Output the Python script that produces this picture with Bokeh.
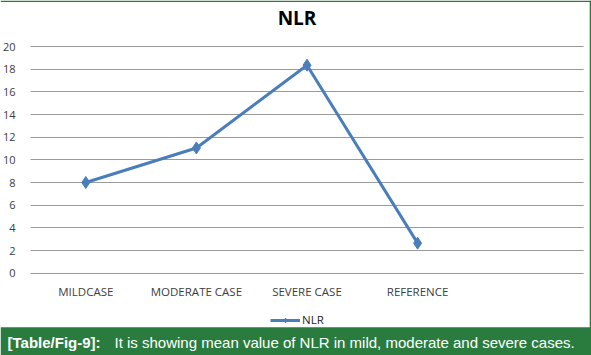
from bokeh.plotting import figure
from bokeh.models import (Range1d, FixedTicker, Label, BoxAnnotation, Legend, LegendItem,
                          LinearAxis, Grid, Span)
from bokeh.embed import file_html
from bokeh.resources import INLINE

categories = ["MILDCASE", "MODERATE CASE", "SEVERE CASE", "REFERENCE"]
nlr_values = [8.0, 11.05, 18.35, 2.65]
y_ticks = [0, 2, 4, 6, 8, 10, 12, 14, 16, 18, 20]
title_text = "NLR"
series_name = "NLR"
caption_bold = "[Table/Fig-9]:"
caption_text = "It is showing mean value of NLR in mild, moderate and severe cases."

W, H = 591, 355
# plot-area pixel geometry of the reference (left, right, top, bottom)
PL, PR, PT, PB = 30, 583, 46, 272.7
n_slots = 5
slot_lo, slot_hi = 0.5, n_slots + 0.5
v_lo, v_hi = 0, 20

def dx(px):
    return slot_lo + (px - PL) / (PR - PL) * (slot_hi - slot_lo)

def dy(py):
    return v_hi - (py - PT) / (PB - PT) * (v_hi - v_lo)

p = figure(width=W, height=H, output_backend="svg", toolbar_location=None,
           title_location=None,
           x_range=Range1d(dx(0), dx(W)), y_range=Range1d(dy(H), dy(0)),
           min_border=0, x_axis_location=None, y_axis_location=None,
           background_fill_color="white", border_fill_color="white")
p.outline_line_color = None

xs = [i + 1 for i in range(len(categories))]

yaxis = LinearAxis(fixed_location=dx(PL), ticker=FixedTicker(ticks=y_ticks))
yaxis.axis_line_color = None
yaxis.major_tick_line_color = None
yaxis.minor_tick_line_color = None
yaxis.major_label_text_font = "Open Sans"
yaxis.major_label_text_font_size = "11px"
yaxis.major_label_text_color = "#404040"
yaxis.major_label_standoff = 9
p.add_layout(yaxis, "left")

xaxis = LinearAxis(fixed_location=0, ticker=FixedTicker(ticks=xs),
                   major_label_overrides={x: c for x, c in zip(xs, categories)})
xaxis.axis_line_color = None
xaxis.major_tick_line_color = None
xaxis.minor_tick_line_color = None
xaxis.major_label_text_font = "Open Sans"
xaxis.major_label_text_font_size = "11.5px"
xaxis.major_label_text_color = "#404040"
xaxis.major_label_standoff = 5
p.add_layout(xaxis, "below")

p.xgrid.visible = False
p.ygrid.visible = False
ygrid = Grid(dimension=1, ticker=FixedTicker(ticks=y_ticks), grid_line_color="#9a9a9a",
             grid_line_width=1, cross_bounds=(dx(PL), dx(PR)))
p.add_layout(ygrid)

line_color = "#4a7ebb"
r1 = p.line(xs, nlr_values, line_color=line_color, line_width=3)
r2 = p.scatter(xs, nlr_values, marker="diamond", size=12, fill_color=line_color,
               line_color=line_color)

green = "#2a7c3e"
# green frame border (top and right only)
p.add_layout(Span(location=dy(0.8), dimension="width", line_color=green, line_width=1.6))
p.add_layout(Span(location=dx(590), dimension="height", line_color=green, line_width=1.6))

# title
p.add_layout(Label(x=dx(296.5), y=dy(17), text=title_text, text_font="Open Sans",
                   text_font_style="bold", text_font_size="19px", text_color="#000000",
                   text_align="center", text_baseline="middle"))

# legend
legend = Legend(items=[LegendItem(label=series_name, renderers=[r1, r2])],
                location=(270, 28), orientation="horizontal",
                glyph_width=30, glyph_height=12, label_standoff=2, padding=0, margin=0,
                border_line_color=None, background_fill_alpha=0,
                label_text_font="Open Sans", label_text_font_size="11.5px",
                label_text_color="#262626")
p.add_layout(legend)

# caption bar
p.add_layout(BoxAnnotation(bottom=dy(H), top=dy(326.7),
                           fill_color=green, fill_alpha=1, line_color=None))
p.add_layout(Label(x=dx(7), y=dy(342), text=caption_bold, text_font="Liberation Sans",
                   text_font_style="bold", text_font_size="15px", text_color="white",
                   text_baseline="middle"))
p.add_layout(Label(x=dx(114), y=dy(342), text=caption_text, text_font="Liberation Sans",
                   text_font_size="15px", text_color="white", text_baseline="middle"))

open("out.html", "w").write(file_html(p, INLINE))
